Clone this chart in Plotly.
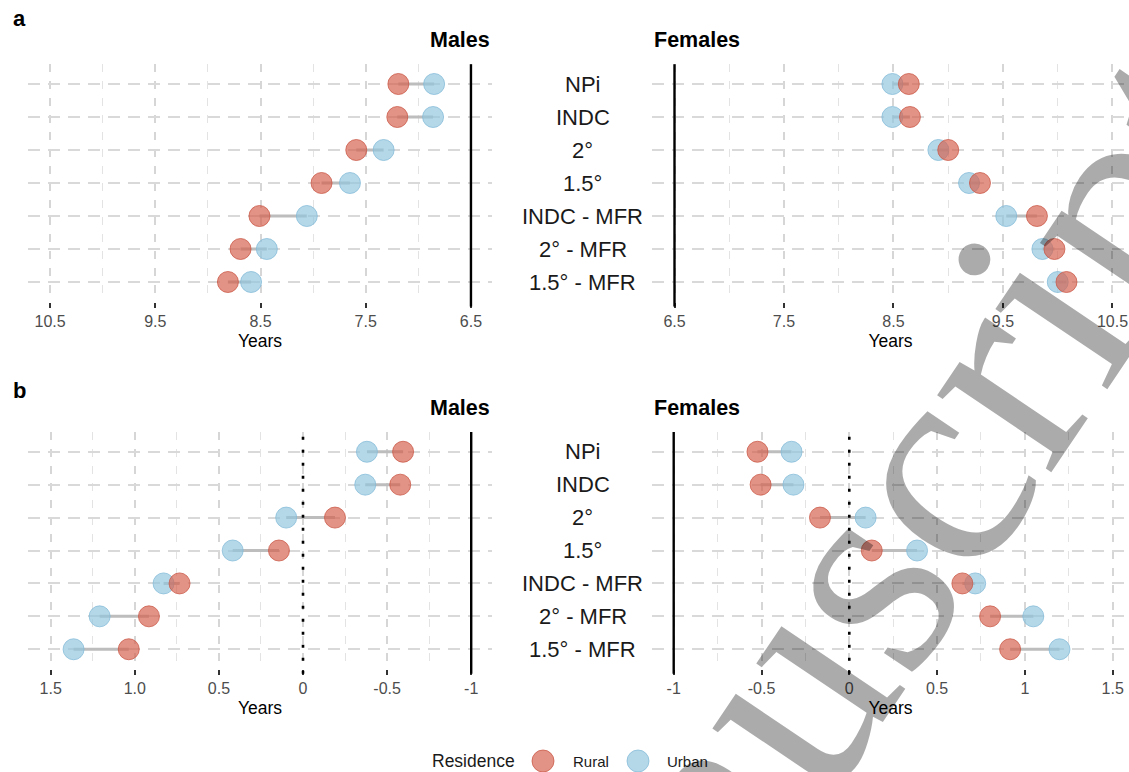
import plotly.graph_objects as go

W, H = 1129, 772

categories = ["NPi", "INDC", "2°", "1.5°", "INDC - MFR", "2° - MFR", "1.5° - MFR"]

# Panel a (years)
males_a_rural = [7.19, 7.20, 7.59, 7.92, 8.51, 8.69, 8.81]
males_a_urban = [6.85, 6.86, 7.33, 7.65, 8.06, 8.44, 8.59]
females_a_rural = [8.64, 8.65, 9.00, 9.29, 9.81, 9.97, 10.08]
females_a_urban = [8.49, 8.49, 8.91, 9.19, 9.53, 9.86, 10.00]

# Panel b (years)
males_b_rural = [-0.595, -0.578, -0.19, 0.143, 0.734, 0.916, 1.036]
males_b_urban = [-0.38, -0.37, 0.10, 0.418, 0.829, 1.209, 1.364]
females_b_rural = [-0.523, -0.505, -0.167, 0.128, 0.644, 0.802, 0.916]
females_b_urban = [-0.329, -0.318, 0.093, 0.386, 0.717, 1.048, 1.197]

ticks_a = [6.5, 7.5, 8.5, 9.5, 10.5]
ticktext_a = ["6.5", "7.5", "8.5", "9.5", "10.5"]
minor_a = [7, 8, 9, 10]
ticks_b = [-1, -0.5, 0, 0.5, 1, 1.5]
ticktext_b_males = ["-1", "-0.5", "0", "0.5", "1.0", "1.5"]
ticktext_b_females = ["-1", "-0.5", "0", "0.5", "1", "1.5"]
minor_b = [-0.75, -0.25, 0.25, 0.75, 1.25]

RURAL_FILL = "rgba(214,96,77,0.68)"
RURAL_LINE = "rgba(200,85,68,0.75)"
URBAN_FILL = "rgba(146,197,222,0.68)"
URBAN_LINE = "rgba(130,185,215,0.75)"
FONT = "Liberation Sans, Arial, sans-serif"

fig = go.Figure()


def add_panel(xa, ya, rural, urban):
    sx, sy = [], []
    for c, r, u in zip(categories, rural, urban):
        sx += [r, u, None]
        sy += [c, c, None]
    fig.add_trace(go.Scatter(x=sx, y=sy, mode="lines", xaxis=xa, yaxis=ya,
                             line=dict(color="#bdbdbd", width=3),
                             showlegend=False, hoverinfo="skip"))
    fig.add_trace(go.Scatter(x=urban, y=categories, mode="markers", xaxis=xa, yaxis=ya,
                             name="Urban", showlegend=False,
                             marker=dict(size=21, color=URBAN_FILL,
                                         line=dict(color=URBAN_LINE, width=1))))
    fig.add_trace(go.Scatter(x=rural, y=categories, mode="markers", xaxis=xa, yaxis=ya,
                             name="Rural", showlegend=False,
                             marker=dict(size=21, color=RURAL_FILL,
                                         line=dict(color=RURAL_LINE, width=1))))


add_panel("x", "y", males_a_rural, males_a_urban)
add_panel("x2", "y2", females_a_rural, females_a_urban)
add_panel("x3", "y3", males_b_rural, males_b_urban)
add_panel("x4", "y4", females_b_rural, females_b_urban)

dom_m = [28 / W, 492 / W]
dom_f = [652 / W, 1.0]
dom_a = [1 - 301.8 / H, 1 - 64.2 / H]
dom_b = [1 - 669.0 / H, 1 - 432.0 / H]


def xaxis(domain, anchor, rng, tickvals, ticktext, minor):
    return dict(domain=domain, anchor=anchor, range=rng,
                tickmode="array", tickvals=tickvals, ticktext=ticktext,
                ticks="outside", ticklen=5, tickwidth=1.6, tickcolor="#333333",
                tickfont=dict(family=FONT, size=16, color="#4d4d4d"),
                showgrid=True, gridcolor="#d6d6d6", gridwidth=1.8, griddash="8px,9px",
                minor=dict(tickmode="array", tickvals=minor, showgrid=True,
                           gridcolor="#e3e3e3", gridwidth=1.1, griddash="8px,9px", ticks=""),
                zeroline=False, showline=False,
                title=dict(text="Years", font=dict(family=FONT, size=17.5, color="#000000"),
                           standoff=5))


def yaxis(domain, anchor):
    return dict(domain=domain, anchor=anchor, type="category",
                categoryorder="array", categoryarray=categories,
                range=[len(categories) - 0.4, -0.6],
                showticklabels=False, ticks="", zeroline=False, showline=False,
                showgrid=True, gridcolor="#d9d9d9", gridwidth=2, griddash="12px,8px")


fig.update_layout(
    width=W, height=H, margin=dict(l=0, r=0, t=0, b=0),
    paper_bgcolor="white", plot_bgcolor="white",
    showlegend=False,
    font=dict(family=FONT),
    xaxis=xaxis(dom_m, "y", [10.71, 6.30], ticks_a, ticktext_a, minor_a),
    yaxis=yaxis(dom_a, "x"),
    xaxis2=xaxis(dom_f, "y2", [6.2945, 10.651], ticks_a, ticktext_a, minor_a),
    yaxis2=yaxis(dom_a, "x2"),
    xaxis3=xaxis(dom_m, "y3", [1.635, -1.1236], ticks_b, ticktext_b_males, minor_b),
    yaxis3=yaxis(dom_b, "x3"),
    xaxis4=xaxis(dom_f, "y4", [-1.1236, 1.593], ticks_b, ticktext_b_females, minor_b),
    yaxis4=yaxis(dom_b, "x4"),
)

shapes = []
# solid black baseline lines
for xr, yr, xv in [("x", "y", 6.5), ("x2", "y2", 6.5), ("x3", "y3", -1), ("x4", "y4", -1)]:
    shapes.append(dict(type="line", xref=xr, yref=yr + " domain", x0=xv, x1=xv, y0=-0.02, y1=1.0,
                       line=dict(color="#000000", width=2.4)))
# dotted zero lines in panel b
for xr, yr in [("x3", "y3"), ("x4", "y4")]:
    shapes.append(dict(type="line", xref=xr, yref=yr + " domain", x0=0, x1=0, y0=-0.02, y1=1.0,
                       line=dict(color="#000000", width=2.6, dash="3px,10px")))

# legend symbols
legend_y = 1 - 761 / H
for cx, fill, ln in [(543, RURAL_FILL, RURAL_LINE), (638, URBAN_FILL, URBAN_LINE)]:
    shapes.append(dict(type="circle", xref="paper", yref="paper",
                       xsizemode="pixel", ysizemode="pixel",
                       xanchor=cx / W, yanchor=legend_y,
                       x0=-11, x1=11, y0=-11, y1=11,
                       fillcolor=fill, line=dict(color=ln, width=1)))
fig.update_layout(shapes=shapes)

ann = []
# category labels in the centre
for yr in ["y2", "y4"]:
    for i, c in enumerate(categories):
        ann.append(dict(text=c, xref="paper", yref=yr, x=583 / W, y=i,
                        xanchor="center", yanchor="middle", showarrow=False,
                        font=dict(family=FONT, size=22, color="#1a1a1a")))
# panel titles
for yc in [40, 407.5]:
    ann.append(dict(text="<b>Males</b>", xref="paper", yref="paper", x=491.5 / W, y=1 - yc / H,
                    xanchor="right", yanchor="middle", showarrow=False,
                    font=dict(family=FONT, size=21.5, color="#000000")))
    ann.append(dict(text="<b>Females</b>", xref="paper", yref="paper", x=652 / W, y=1 - yc / H,
                    xanchor="left", yanchor="middle", showarrow=False,
                    font=dict(family=FONT, size=21.5, color="#000000")))
for lab, yc in [("a", 19), ("b", 390)]:
    ann.append(dict(text="<b>" + lab + "</b>", xref="paper", yref="paper", x=11 / W, y=1 - yc / H,
                    xanchor="left", yanchor="middle", showarrow=False,
                    font=dict(family=FONT, size=22, color="#000000")))
# legend text
ann.append(dict(text="Residence", xref="paper", yref="paper", x=430 / W, y=legend_y,
                xanchor="left", yanchor="middle", showarrow=False,
                font=dict(family=FONT, size=17.5, color="#1a1a1a")))
ann.append(dict(text="Rural", xref="paper", yref="paper", x=571 / W, y=legend_y,
                xanchor="left", yanchor="middle", showarrow=False,
                font=dict(family=FONT, size=15, color="#1a1a1a")))
ann.append(dict(text="Urban", xref="paper", yref="paper", x=665 / W, y=legend_y,
                xanchor="left", yanchor="middle", showarrow=False,
                font=dict(family=FONT, size=15, color="#1a1a1a")))
# watermark
ann.append(dict(text="Manuscript", xref="paper", yref="paper", x=815 / W, y=1 - 642 / H,
                xanchor="center", yanchor="middle", showarrow=False, textangle=-56,
                font=dict(family="Liberation Serif, Times New Roman, serif", size=300,
                          color="rgba(0,0,0,0.33)")))
fig.update_layout(annotations=ann)

fig.write_html("out.html")
